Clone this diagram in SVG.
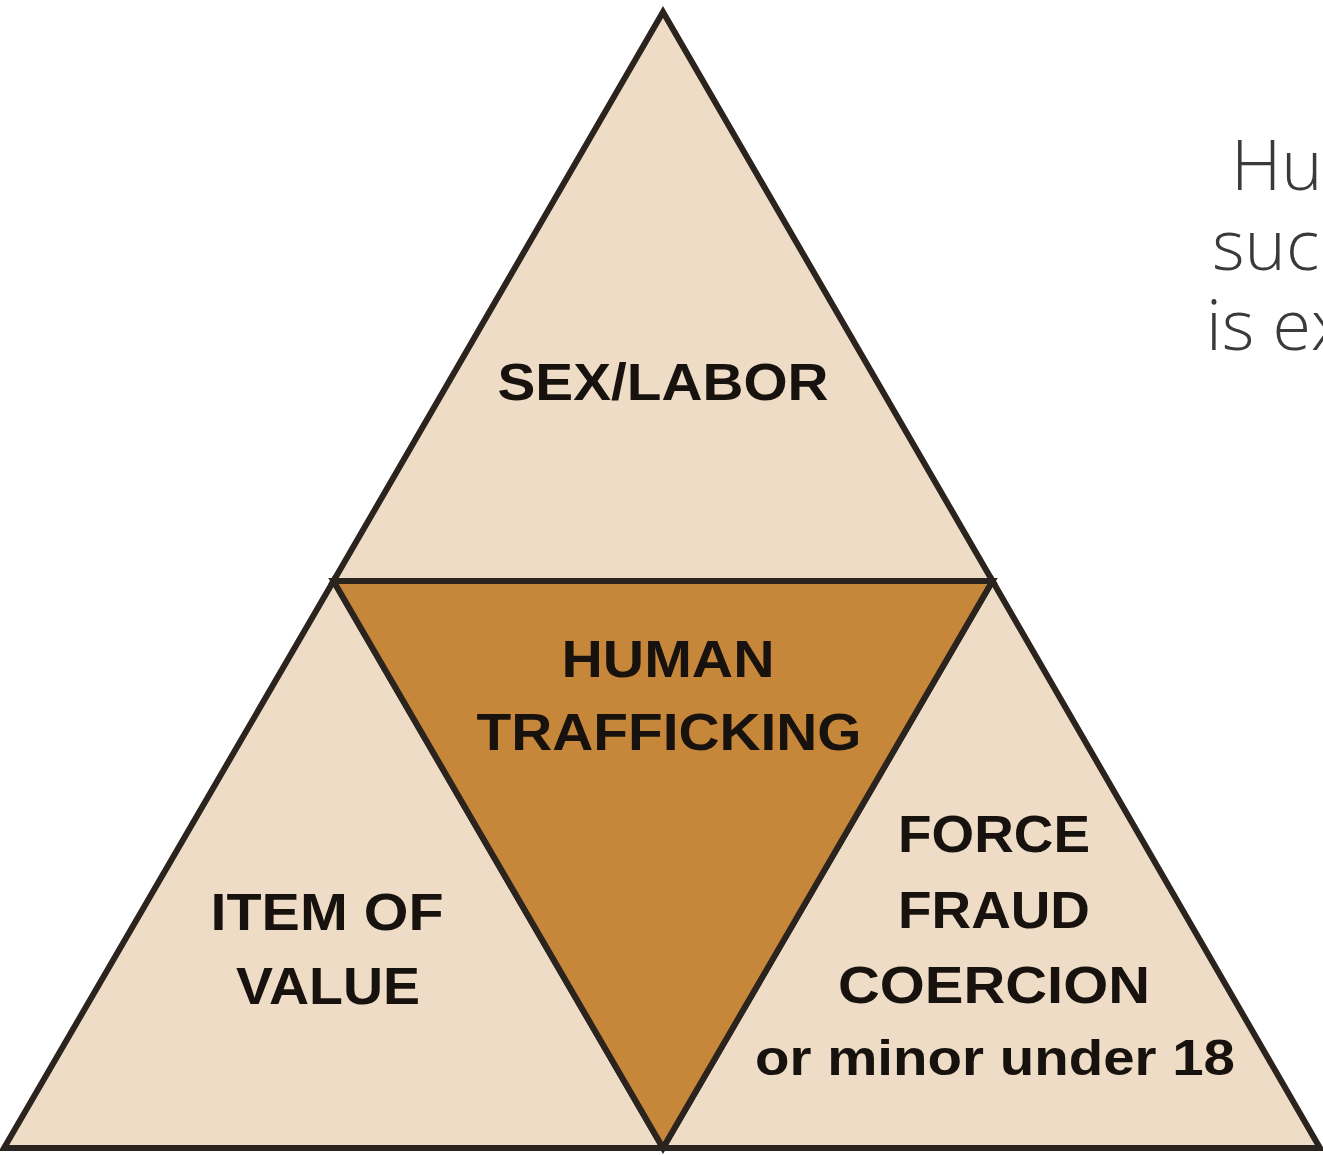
<svg xmlns="http://www.w3.org/2000/svg" width="1323" height="1155" viewBox="0 0 1323 1155">
<style>
.light{fill:#EEDCC6;stroke:#2a231e;stroke-width:6;stroke-linejoin:miter}
.dark{fill:#C6873A;stroke:#2a231e;stroke-width:6;stroke-linejoin:miter}
.lbl{font-family:"Liberation Sans",Arial,sans-serif;font-weight:bold;fill:#17120e;text-anchor:middle}
.side{font-family:"Open Sans","Liberation Sans",sans-serif;font-weight:300;fill:#3a3a3a;font-size:70px}
</style>
<rect width="1323" height="1155" fill="#ffffff"/>
<g id="top">
<polygon class="light" points="663,12 333.5,581 992.5,581"/>
<text class="lbl" x="663" y="400" font-size="52" textLength="331" lengthAdjust="spacingAndGlyphs">SEX/LABOR</text>
</g>
<g id="left">
<polygon class="light" points="333.5,581 4,1148 663,1148"/>
<text class="lbl" x="327" y="930" font-size="52" textLength="233" lengthAdjust="spacingAndGlyphs">ITEM OF</text>
<text class="lbl" x="328" y="1004" font-size="52" textLength="184" lengthAdjust="spacingAndGlyphs">VALUE</text>
</g>
<g id="right">
<polygon class="light" points="992.5,581 663,1148 1320,1148"/>
<text class="lbl" x="994" y="852" font-size="52" textLength="192" lengthAdjust="spacingAndGlyphs">FORCE</text>
<text class="lbl" x="994" y="928" font-size="52" textLength="192" lengthAdjust="spacingAndGlyphs">FRAUD</text>
<text class="lbl" x="994" y="1003" font-size="52" textLength="312" lengthAdjust="spacingAndGlyphs">COERCION</text>
<text class="lbl" x="995" y="1075" font-size="50" textLength="480" lengthAdjust="spacingAndGlyphs">or minor under 18</text>
</g>
<g id="center">
<polygon class="dark" points="333.5,581 992.5,581 663,1148"/>
<text class="lbl" x="668" y="677" font-size="52" textLength="213" lengthAdjust="spacingAndGlyphs">HUMAN</text>
<text class="lbl" x="669" y="750" font-size="52" textLength="385" lengthAdjust="spacingAndGlyphs">TRAFFICKING</text>
</g>
<g id="sidetext">
<text class="side" x="1231" y="190">Hu</text>
<text class="side" x="1212" y="270">suc</text>
<text class="side" x="1206" y="350">is ex</text>
</g>
<g id="connectors"/>
</svg>
